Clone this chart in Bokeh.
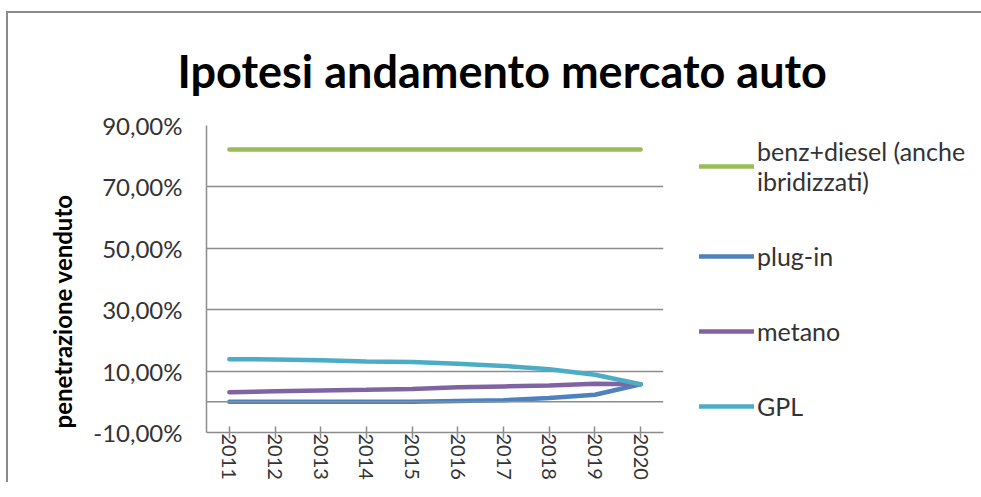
from bokeh.plotting import figure
from bokeh.models import (FactorRange, Range1d, FixedTicker, CustomJSTickFormatter,
                          Span, Legend, LegendItem, Title)
from bokeh.embed import file_html
from bokeh.resources import INLINE

# ---- data (percent) ----
years = ["2011", "2012", "2013", "2014", "2015", "2016", "2017", "2018", "2019", "2020"]
benz_diesel = [82.2, 82.2, 82.2, 82.2, 82.2, 82.2, 82.2, 82.2, 82.2, 82.2]
plug_in = [0.0, 0.0, 0.0, 0.0, 0.0, 0.3, 0.5, 1.2, 2.3, 5.7]
metano = [3.1, 3.4, 3.7, 3.9, 4.2, 4.7, 5.0, 5.3, 5.9, 5.7]
gpl = [13.9, 13.8, 13.5, 13.1, 13.0, 12.4, 11.7, 10.6, 8.8, 5.7]

series_labels = ["benz+diesel (anche\nibridizzati)", "plug-in", "metano", "GPL"]
series_colors = ["#9BBB59", "#4F81BD", "#8064A2", "#4BACC6"]
y_ticks = [-10, 10, 30, 50, 70, 90]

title_text = "Ipotesi andamento mercato auto"
y_label_text = "penetrazione venduto"
FONT = "Lato"
GRID = "#8c8c8c"

p = figure(x_range=FactorRange(*years), y_range=Range1d(-10, 90),
           frame_width=457, frame_height=307,
           min_border_left=198, min_border_right=308, min_border_top=110, min_border_bottom=48,
           output_backend="svg", toolbar_location=None, title=title_text)

p.outline_line_color = None
p.background_fill_color = "white"
p.border_fill_color = "white"

# title
p.title.text_font = FONT
p.title.text_font_size = "45px"
p.title.text_font_style = "bold"
p.title.text_color = "black"
p.title.align = "left"
p.title.offset = -29
p.title.standoff = 56

# y axis
ya = p.yaxis[0]
ya.ticker = FixedTicker(ticks=y_ticks)
ya.formatter = CustomJSTickFormatter(code="return tick.toFixed(2).replace('.', ',') + '%';")
ya.major_tick_in = 0
ya.major_tick_out = 0
ya.minor_tick_in = 0
ya.minor_tick_out = 0
ya.axis_line_color = GRID
ya.axis_line_width = 1.5
ya.major_label_text_font = FONT
ya.major_label_text_font_size = "24px"
ya.major_label_text_color = "#333333"
ya.major_label_standoff = 24

# y axis title (left side panel)
p.add_layout(Title(text=y_label_text, align="left", offset=4, standoff=28,
                   text_font=FONT, text_font_size="24px", text_font_style="bold",
                   text_color="black"), "left")

# x axis
xa = p.xaxis[0]
xa.axis_line_color = GRID
xa.axis_line_width = 1.5
xa.major_tick_line_color = GRID
xa.major_tick_line_width = 1.5
xa.major_tick_in = 6
xa.major_tick_out = 6
xa.major_label_orientation = "vertical"
xa.major_label_text_font = FONT
xa.major_label_text_font_size = "20px"
xa.major_label_text_color = "#333333"
xa.major_label_standoff = -5

# grid
p.xgrid.grid_line_color = None
p.ygrid.ticker = FixedTicker(ticks=y_ticks)
p.ygrid.grid_line_color = GRID
p.ygrid.grid_line_width = 1.5
p.add_layout(Span(location=0, dimension="width", line_color=GRID, line_width=1.5))

# series
renderers = []
for vals, col in zip([benz_diesel, plug_in, metano, gpl], series_colors):
    renderers.append(p.line(years, vals, line_color=col, line_width=4.5, line_cap="round"))

legend = Legend(items=[LegendItem(label=lab, renderers=[r]) for lab, r in zip(series_labels, renderers)],
                location=(36, 11), spacing=45)
legend.padding = 0
legend.margin = 0
legend.border_line_color = None
legend.background_fill_alpha = 0
legend.glyph_width = 55
legend.glyph_height = 30
legend.label_height = 30
legend.label_standoff = 3
legend.label_text_font = FONT
legend.label_text_font_size = "25px"
legend.label_text_color = "#333333"
p.add_layout(legend, "right")

p.styles = {"border-top": "2px solid #8a8a8a", "border-left": "2px solid #8a8a8a",
            "margin-top": "11px", "margin-left": "6px"}

open("out.html", "w").write(file_html(p, INLINE))
